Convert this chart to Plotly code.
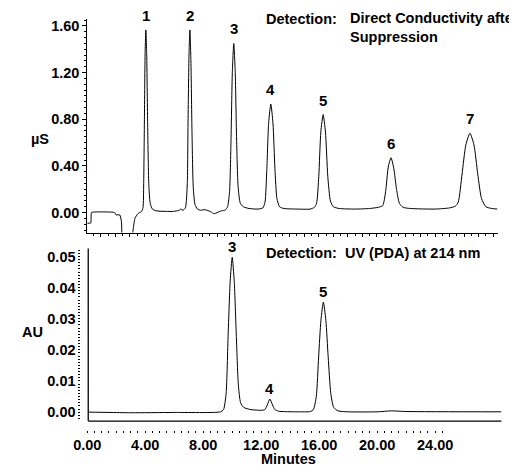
import numpy as np
import plotly.graph_objects as go

# ---- data ----
# Conductivity trace (minutes, µS)
cond_t = [0.07, 0.30, 0.36, 0.60, 1.50, 1.95, 2.05, 2.30, 2.42, 2.55, 3.10, 3.22, 3.35, 3.55, 3.80, 3.90,
          3.95, 4.00, 4.05, 4.10, 4.16, 4.22, 4.30, 4.40, 4.55, 4.80, 5.50, 6.00, 6.40, 6.50, 6.65, 6.82,
          6.95, 7.00, 7.07, 7.13, 7.20, 7.27, 7.36, 7.48, 7.65, 7.90, 8.10, 8.30, 8.60, 8.80, 9.00, 9.30, 9.55, 9.72,
          9.86, 9.96, 10.05, 10.15, 10.25, 10.34, 10.45, 10.60, 10.80, 11.20, 11.80, 12.15,
          12.30, 12.42, 12.55, 12.70, 12.85, 12.98, 13.12, 13.30, 13.60, 14.50, 15.40, 15.70,
          15.85, 16.00, 16.14, 16.30, 16.46, 16.62, 16.80, 17.00, 17.40, 18.50, 19.50, 20.10,
          20.40, 20.60, 20.78, 20.97, 21.16, 21.35, 21.55, 21.80, 22.30, 24.00, 25.00, 25.40,
          25.60, 25.86, 26.12, 26.40, 26.68, 26.94, 27.20, 27.50, 27.90, 28.30]
cond_v = [-0.09, -0.09, 0.00, 0.005, 0.005, 0.00, -0.02, -0.02, -0.08, -0.30, -0.30, -0.15, -0.05, -0.01, 0.01, 0.04,
          0.25, 0.80, 1.38, 1.566, 1.35, 0.78, 0.25, 0.08, 0.03, 0.015, 0.01, 0.01, 0.02, 0.03, 0.02, 0.04,
          0.25, 0.75, 1.36, 1.566, 1.30, 0.72, 0.22, 0.07, 0.03, 0.02, 0.025, 0.02, 0.005, -0.01, 0.00, 0.015, 0.02, 0.05,
          0.18, 0.62, 1.20, 1.45, 1.20, 0.65, 0.22, 0.08, 0.05, 0.035, 0.03, 0.04,
          0.09, 0.36, 0.77, 0.93, 0.76, 0.38, 0.12, 0.05, 0.035, 0.03, 0.03, 0.045,
          0.08, 0.31, 0.69, 0.84, 0.69, 0.31, 0.10, 0.05, 0.035, 0.03, 0.035, 0.045,
          0.06, 0.18, 0.39, 0.47, 0.38, 0.20, 0.08, 0.045, 0.035, 0.03, 0.04, 0.055,
          0.09, 0.33, 0.58, 0.68, 0.58, 0.33, 0.12, 0.05, 0.035, 0.03]

# UV trace (minutes, AU)
uv_t = [0.07, 1.50, 3.00, 6.00, 9.20, 9.40, 9.58, 9.72, 9.86, 10.00, 10.14, 10.28, 10.42, 10.58, 10.80, 11.30, 12.00,
        12.25, 12.42, 12.60, 12.78, 12.95, 13.20, 14.50, 15.40,
        15.60, 15.80, 15.96, 16.12, 16.29, 16.46, 16.62, 16.80, 17.00, 17.30, 18.00, 20.00, 21.00, 22.00, 28.57]
uv_v = [0.0000, -0.0001, -0.0002, -0.0001, 0.0001, 0.0008, 0.0060, 0.0250, 0.0420, 0.0497, 0.0420, 0.0250, 0.0090, 0.0030, 0.0015, 0.0008, 0.0006,
        0.0008, 0.0023, 0.0042, 0.0023, 0.0008, 0.0003, 0.0001, 0.0002,
        0.0008, 0.0050, 0.0177, 0.0295, 0.0353, 0.0295, 0.0177, 0.0060, 0.0015, 0.0004, 0.0001, 0.0001, 0.0004, 0.0002, 0.0001]

# peak labels
cond_peak_labels = ["1", "2", "3", "4", "5", "6", "7"]
cond_peak_t = [4.10, 7.13, 10.15, 12.70, 16.30, 20.97, 26.40]
cond_peak_v = [1.566, 1.566, 1.45, 0.93, 0.84, 0.47, 0.68]
uv_peak_labels = ["3", "4", "5"]
uv_peak_t = [10.00, 12.60, 16.29]
uv_peak_v = [0.0497, 0.0042, 0.0353]

x_tick_vals = [0, 4, 8, 12, 16, 20, 24]
x_tick_text = ["0.00", "4.00", "8.00", "12.00", "16.00", "20.00", "24.00"]
cond_tick_vals = [0.0, 0.4, 0.8, 1.2, 1.6]
cond_tick_text = ["0.00", "0.40", "0.80", "1.20", "1.60"]
uv_tick_vals = [0.00, 0.01, 0.02, 0.03, 0.04, 0.05]
uv_tick_text = ["0.00", "0.01", "0.02", "0.03", "0.04", "0.05"]

# ---- layout helpers (window pixel -> paper); page body has an 8px offset ----
OFF = 8
W, H = 517 - OFF, 466 - OFF
def px(x):
    return (x - OFF) / W
def py(y):
    return 1 - (y - OFF) / H

FONT = "Liberation Sans, Arial, sans-serif"
fig = go.Figure()
fig.add_trace(go.Scatter(x=cond_t, y=cond_v, mode="lines", line=dict(color="black", width=1, shape="spline", smoothing=0.6),
                         xaxis="x", yaxis="y", showlegend=False, hoverinfo="skip"))
fig.add_trace(go.Scatter(x=uv_t, y=uv_v, mode="lines", line=dict(color="black", width=1, shape="spline", smoothing=0.6),
                         xaxis="x2", yaxis="y2", showlegend=False, hoverinfo="skip"))

annotations = []
for lab, t, v in zip(cond_peak_labels, cond_peak_t, cond_peak_v):
    annotations.append(dict(x=t, y=v, xref="x", yref="y", text=lab, showarrow=False,
                            yanchor="bottom", yshift=4, font=dict(size=15)))
for lab, t, v in zip(uv_peak_labels, uv_peak_t, uv_peak_v):
    annotations.append(dict(x=t, y=v, xref="x2", yref="y2", text=lab, showarrow=False,
                            yanchor="bottom", yshift=0, font=dict(size=15)))

annotations += [
    dict(x=px(257), y=py(18), xref="paper", yref="paper", text="Detection:", showarrow=False,
         xanchor="left", yanchor="middle"),
    dict(x=px(344), y=py(27), xref="paper", yref="paper", text="Direct Conductivity after<br>Suppression",
         showarrow=False, xanchor="left", yanchor="middle", align="left"),
    dict(x=px(257), y=py(253), xref="paper", yref="paper", text="Detection:  UV (PDA) at 214 nm",
         showarrow=False, xanchor="left", yanchor="middle"),
    dict(x=px(27), y=py(138), xref="paper", yref="paper", text="µS", showarrow=False,
         xanchor="center", yanchor="middle"),
    dict(x=px(20), y=py(332), xref="paper", yref="paper", text="AU", showarrow=False,
         xanchor="center", yanchor="middle"),
    dict(x=px(283), y=py(459), xref="paper", yref="paper", text="Minutes", showarrow=False,
         xanchor="center", yanchor="middle"),
]

shapes = [
    dict(type="line", xref="paper", yref="paper", x0=px(77), x1=px(501), y0=py(421), y1=py(421),
         line=dict(color="black", width=1.3)),
    dict(type="line", xref="paper", yref="paper", x0=px(77), x1=px(77), y0=py(421), y1=py(248),
         line=dict(color="black", width=1.3)),
]

minor_x_bottom = [v * 0.5 for v in range(1, 50)]

fig.update_layout(
    width=W, height=H,
    margin=dict(l=0, r=0, t=0, b=0),
    paper_bgcolor="white", plot_bgcolor="white",
    font=dict(family=FONT, size=14.5, color="black", weight="bold"),
    xaxis=dict(domain=[px(76), px(497)], anchor="y", range=[0.067, 28.30],
               showline=True, linecolor="black", linewidth=1, showgrid=False, zeroline=False,
               showticklabels=False, ticks="outside", ticklen=3, tickcolor="black", dtick=1, tick0=0,
               minor=dict(ticks="outside", ticklen=2, dtick=0.5, tick0=0, tickcolor="black")),
    yaxis=dict(domain=[py(232), py(18)], anchor="x", range=[-0.171, 1.66],
               showline=True, linecolor="black", linewidth=1, showgrid=False, zeroline=False,
               tickvals=cond_tick_vals, ticktext=cond_tick_text, ticks="outside", ticklen=4, tickcolor="black",
               minor=dict(ticks="outside", ticklen=2, dtick=0.05, tick0=0, tickcolor="black")),
    xaxis2=dict(domain=[px(74.5), px(501)], anchor="free", position=py(430), range=[-0.1, 28.57],
                showline=False, showgrid=False, zeroline=False,
                tickvals=x_tick_vals, ticktext=x_tick_text, ticks="outside", ticklen=2, tickcolor="black",
                minor=dict(ticks="outside", ticklen=1.5, tickvals=minor_x_bottom, tickcolor="black")),
    yaxis2=dict(domain=[py(421), py(248)], anchor="free", position=px(69), range=[-0.00288, 0.05256],
                showline=False, showgrid=False, zeroline=False,
                tickvals=uv_tick_vals, ticktext=uv_tick_text, ticks="outside", ticklen=2, tickcolor="black",
                minor=dict(ticks="outside", ticklen=2, dtick=0.001, tick0=0, tickcolor="black")),
    annotations=annotations,
    shapes=shapes,
)

fig.write_html("out.html")
